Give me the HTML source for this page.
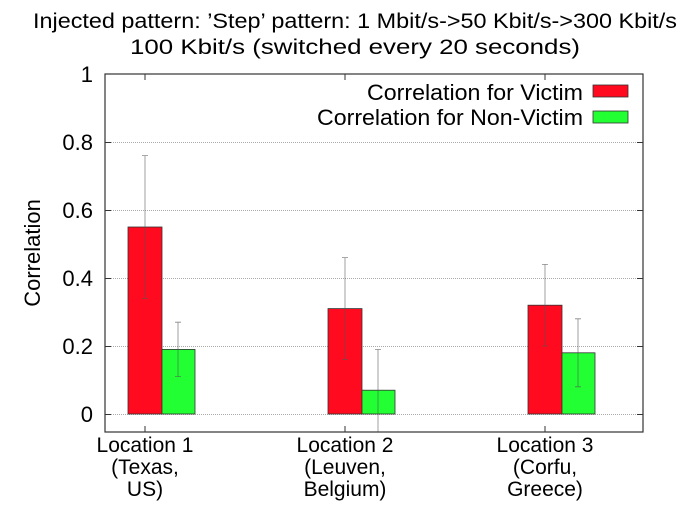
<!DOCTYPE html>
<html><head><meta charset="utf-8"><style>body{margin:0;background:#fff}svg{display:block}</style></head>
<body>
<svg width="700" height="526" xmlns="http://www.w3.org/2000/svg" font-family="Liberation Sans, sans-serif">
<rect width="700" height="526" fill="#fff"/>
<text x="355" y="28" font-size="21" text-anchor="middle" textLength="644" lengthAdjust="spacingAndGlyphs">Injected pattern: ’Step’ pattern: 1 Mbit/s-&gt;50 Kbit/s-&gt;300 Kbit/s</text>
<text x="355" y="54" font-size="21" text-anchor="middle" textLength="450" lengthAdjust="spacingAndGlyphs">100 Kbit/s (switched every 20 seconds)</text>
<g stroke="#aaa" stroke-width="1" stroke-dasharray="1,1">
<line x1="105" y1="414.5" x2="643" y2="414.5"/>
<line x1="105" y1="346.5" x2="643" y2="346.5"/>
<line x1="105" y1="278.5" x2="643" y2="278.5"/>
<line x1="105" y1="210.5" x2="643" y2="210.5"/>
<line x1="105" y1="142.5" x2="643" y2="142.5"/>
</g>
<g font-size="22" text-anchor="end">
<text x="93" y="422">0</text><text x="93" y="354">0.2</text><text x="93" y="286">0.4</text><text x="93" y="218">0.6</text><text x="93" y="150">0.8</text><text x="93" y="82">1</text>
</g>
<text transform="translate(40,253) rotate(-90)" font-size="22" text-anchor="middle">Correlation</text>
<g stroke="#333" stroke-width="0.8">
<rect x="128" y="227" width="34" height="187" fill="#ff0a1e"/>
<rect x="162" y="349.4" width="33" height="64.6" fill="#22ff33"/>
<rect x="328" y="308.6" width="34" height="105.4" fill="#ff0a1e"/>
<rect x="362" y="390.2" width="33" height="23.8" fill="#22ff33"/>
<rect x="528" y="305.2" width="34" height="108.8" fill="#ff0a1e"/>
<rect x="562" y="352.8" width="33" height="61.2" fill="#22ff33"/>
</g>
<g stroke="#555" stroke-width="0.8" stroke-opacity="0.7">
<path d="M145 155.6V298.4M142 155.6h6M142 298.4h6"/>
<path d="M178 322.2V376.6M175 322.2h6M175 376.6h6"/>
<path d="M345 257.6V359.6M342 257.6h6M342 359.6h6"/>
<path d="M378 349.4V432M375 349.4h6"/>
<path d="M545 264.4V346M542 264.4h6M542 346h6"/>
<path d="M578 318.8V386.8M575 318.8h6M575 386.8h6"/>
</g>
<rect x="105" y="74" width="538" height="358" fill="none" stroke="#333" stroke-width="1.2"/>
<g stroke="#333" stroke-width="1">
<path d="M145 432v-6M345 432v-6M545 432v-6M145 74v6M345 74v6M545 74v6"/>
<path d="M105 414.5h6M105 346.5h6M105 278.5h6M105 210.5h6M105 142.5h6M643 414.5h-6M643 346.5h-6M643 278.5h-6M643 210.5h-6M643 142.5h-6"/>
</g>
<g font-size="22" text-anchor="end">
<text x="583" y="100" textLength="216" lengthAdjust="spacingAndGlyphs">Correlation for Victim</text>
<text x="583" y="125" textLength="266" lengthAdjust="spacingAndGlyphs">Correlation for Non-Victim</text>
</g>
<rect x="593" y="85" width="35" height="12" fill="#ff0a1e" stroke="#333" stroke-width="0.8"/>
<rect x="593" y="111" width="35" height="12" fill="#22ff33" stroke="#333" stroke-width="0.8"/>
<g font-size="21" text-anchor="middle">
<text x="145" y="452">Location 1</text><text x="145" y="474">(Texas,</text><text x="145" y="496">US)</text>
<text x="345" y="452">Location 2</text><text x="345" y="474">(Leuven,</text><text x="345" y="496">Belgium)</text>
<text x="545" y="452">Location 3</text><text x="545" y="474">(Corfu,</text><text x="545" y="496">Greece)</text>
</g>
</svg>
</body></html>
